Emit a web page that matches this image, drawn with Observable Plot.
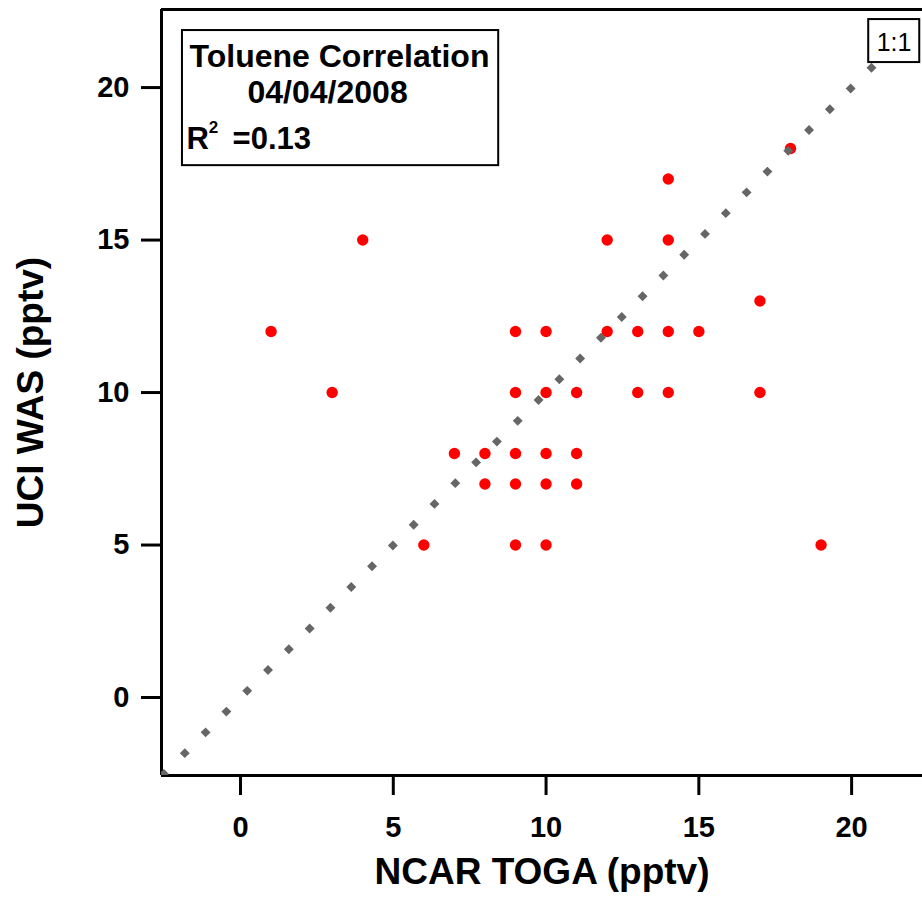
<!DOCTYPE html>
<html>
<head>
<meta charset="utf-8">
<script src="https://cdn.jsdelivr.net/npm/d3@7"></script>
<script src="https://cdn.jsdelivr.net/npm/@observablehq/plot@0.6"></script>
<style>
  html, body { margin: 0; padding: 0; background: #fff; }
</style>
</head>
<body>
<div id="chart"></div>
<script>
// NCAR TOGA (x) vs UCI WAS (y), toluene, pptv
const togaValues = [1, 3, 4, 6, 7, 8, 8, 9, 9, 9, 9, 9, 10, 10, 10, 10, 10, 11, 11, 11, 12, 12, 13, 13, 14, 14, 14, 14, 15, 17, 17, 18, 19];
const wasValues  = [12, 10, 15, 5, 8, 8, 7, 12, 10, 8, 7, 5, 12, 10, 8, 7, 5, 10, 8, 7, 15, 12, 12, 10, 17, 15, 12, 10, 12, 13, 10, 18, 5];
const tickValues = [0, 5, 10, 15, 20];
const titleLines = ["Toluene Correlation", "04/04/2008"];
const r2Text = "=0.13";
const oneToOneLabel = "1:1";

const points = togaValues.map((x, i) => ({x, y: wasValues[i]}));

const xDomain = [-2.586, 22.32];
const yDomain = [-2.557, 22.56];
const font = "'Liberation Sans', Arial, Helvetica, sans-serif";

const chart = Plot.plot({
  width: 922,
  height: 901,
  marginLeft: 161,
  marginRight: 0,
  marginTop: 9,
  marginBottom: 126,
  style: {fontFamily: font, fontWeight: "bold", color: "#000", background: "#fff"},
  x: {domain: xDomain},
  y: {domain: yDomain},
  marks: [
    // spines (left, bottom, top)
    Plot.ruleX([xDomain[0]], {stroke: "#000", strokeWidth: 3}),
    Plot.ruleY([yDomain[0]], {stroke: "#000", strokeWidth: 3}),
    Plot.ruleY([yDomain[1]], {stroke: "#000", strokeWidth: 3}),
    Plot.axisX({ticks: tickValues, tickSize: 20, tickPadding: 21, fontSize: 29, strokeWidth: 3, label: null, tickFormat: d => String(d)}),
    Plot.axisY({ticks: tickValues, tickSize: 20, tickPadding: 12, fontSize: 29, strokeWidth: 3, label: null, tickFormat: d => String(d)}),
    Plot.text(["NCAR TOGA (pptv)"], {frameAnchor: "bottom", dy: 108, fontSize: 37, fontWeight: "bold", lineAnchor: "bottom"}),
    Plot.text(["UCI WAS (pptv)"], {frameAnchor: "left", dx: -130, rotate: -90, textAnchor: "middle", fontSize: 37, fontWeight: "bold"}),
    // data points
    Plot.dot(points, {x: "x", y: "y", r: 5.7, fill: "#ff0000", stroke: "none"}),
    // 1:1 line
    Plot.line([[xDomain[0], xDomain[0]], [23, 23]], {stroke: "#666666", strokeWidth: 7, strokeLinecap: "butt", strokeDasharray: "7,22.4", clip: true}),
    // annotation box
    Plot.rect([0], {x1: -1.9, x2: 8.45, y1: 17.44, y2: 21.87, fill: "#fff", stroke: "#000", strokeWidth: 2}),
    Plot.text([titleLines[0]], {x: 3.24, y: 20.66, fontSize: 32, fontWeight: "bold", lineAnchor: "bottom"}),
    Plot.text([titleLines[1]], {x: 2.85, y: 19.51, fontSize: 32, fontWeight: "bold", lineAnchor: "bottom"}),
    Plot.text(["R"], {x: -1.77, y: 18.0, fontSize: 31, fontWeight: "bold", lineAnchor: "bottom", textAnchor: "start"}),
    Plot.text(["2"], {x: -1.04, y: 18.5, fontSize: 17, fontWeight: "bold", lineAnchor: "bottom", textAnchor: "start"}),
    Plot.text([r2Text], {x: -0.26, y: 18.0, fontSize: 31, fontWeight: "bold", lineAnchor: "bottom", textAnchor: "start"}),
    // 1:1 label box
    Plot.rect([0], {x1: 20.56, x2: 22.23, y1: 20.82, y2: 22.23, fill: "#fff", stroke: "#000", strokeWidth: 2}),
    Plot.text([oneToOneLabel], {x: 21.39, y: 21.2, fontSize: 25, fontWeight: "normal", fontFamily: "'Liberation Sans', Arial, sans-serif", lineAnchor: "bottom"})
  ]
});
document.getElementById("chart").appendChild(chart);
</script>
</body>
</html>
